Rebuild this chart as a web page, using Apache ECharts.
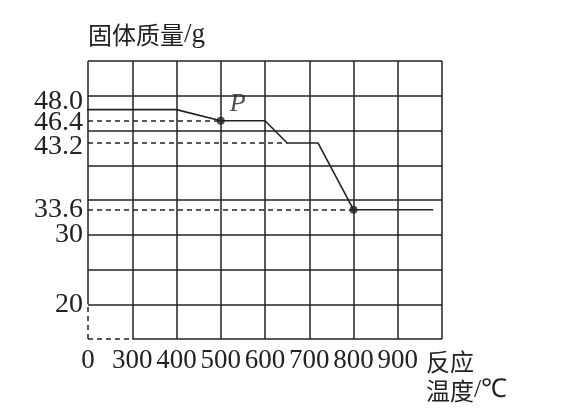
<!DOCTYPE html>
<html>
<head>
<meta charset="utf-8">
<script src="https://cdn.jsdelivr.net/npm/echarts@6.0.0/dist/echarts.min.js"></script>
<style>
    html, body { margin: 0; padding: 0; background: #fff; }
    #chart { width: 586px; height: 414px; }
</style>
</head>
<body>
<div id="chart"></div>
<script>
// Reaction temperature (°C) and solid mass (g)
const temperature = [0, 400, 500, 600, 650, 720, 800, 980];
const mass = [48.0, 48.0, 46.4, 46.4, 43.2, 43.2, 33.6, 33.6];

// Marked points on the curve
const pointX = [500, 800];
const pointY = [46.4, 33.6];
const pointName = ["P", ""];

// Dashed guides from the y axis to the curve
const guideX = [500, 650, 800];
const guideY = [46.4, 43.2, 33.6];

// Tick labels
const yTickValues = [20, 30, 33.6, 43.2, 46.4, 48.0];
const yTickLabels = ["20", "30", "33.6", "43.2", "46.4", "48.0"];
const xTickLabels = ["0", "300", "400", "500", "600", "700", "800", "900", ""];

// Axis extents (the first x step and the lowest y step are a broken, dashed part)
const X_MIN = 200, X_MAX = 1000, X_STEP = 100, X_BREAK = 300;
const Y_MIN = 15, Y_MAX = 55, Y_STEP = 5, Y_BREAK = 20;

const INK = "#222";
const SERIF = "Liberation Serif";
const CJK = "Noto Sans CJK SC";

const solid = { color: INK, width: 1.5, type: "solid" };
const dashed = { color: INK, width: 1.5, type: [5, 4] };

// The crowded labels at the top are split over overlaid y axes, otherwise
// ECharts hides a label that touches the first/last one of an axis
const labelGroups = [[0, 1, 2, 4], [3], [5]];

// Vertical nudge (px, positive = down) per label, as in the printed figure
const labelNudge = [0, 0, 0, 4, 2, -8];

function yLabel(value)
{
    const i = yTickValues.findIndex((v) => Math.abs(v - value) < 1e-6);
    return "{t" + i + "|" + yTickLabels[i] + "}";
}

const labelRich = {};
labelNudge.forEach((d, i) => {
    labelRich["t" + i] = {
        fontFamily: SERIF,
        fontSize: 28,
        color: INK,
        padding: d >= 0 ? [2 * d, 0, 0, 0] : [0, 0, -2 * d, 0]
    };
});

const yAxes = labelGroups.map((group, k) => ({
    type: "value",
    min: Y_MIN,
    max: Y_MAX,
    interval: Y_STEP,
    position: "left",
    axisLine: { show: false },
    axisTick: { show: false },
    splitLine: { show: k === 0, showMinLine: false, lineStyle: solid },
    axisLabel: {
        margin: 5,
        showMinLabel: true,
        showMaxLabel: true,
        customValues: group.map((i) => yTickValues[i]),
        formatter: yLabel,
        rich: labelRich
    }
}));

// Axis title on the first y axis
Object.assign(yAxes[0], {
    name: "{c|固体质量}{s|/g}",
    nameLocation: "end",
    nameGap: 26,
    nameTextStyle: {
        align: "left",
        verticalAlign: "middle",
        rich: {
            c: { fontFamily: CJK, fontSize: 24, color: INK },
            s: { fontFamily: SERIF, fontSize: 27, color: INK }
        }
    }
});

const chart = echarts.init(document.getElementById("chart"));

chart.setOption({
    animation: false,
    backgroundColor: "#fff",
    grid: { left: 88, right: 144, top: 61, bottom: 75 },
    xAxis: {
        type: "value",
        min: X_MIN,
        max: X_MAX,
        interval: X_STEP,
        name: "{c|反应}\n{c|温度}{s|/℃}",
        nameLocation: "end",
        nameGap: -16,
        nameTextStyle: {
            align: "left",
            verticalAlign: "top",
            padding: [8, 0, 0, 0],
            rich: {
                c: { fontFamily: CJK, fontSize: 24, color: INK, lineHeight: 29 },
                s: { fontFamily: SERIF, fontSize: 26, color: INK, lineHeight: 29 }
            }
        },
        axisLine: { show: false },
        axisTick: { show: false },
        splitLine: { show: true, showMinLine: false, lineStyle: solid },
        axisLabel: {
            margin: 8,
            fontFamily: SERIF,
            fontSize: 27,
            color: INK,
            showMinLabel: true,
            formatter: (v) => xTickLabels[Math.round((v - X_MIN) / X_STEP)]
        }
    },
    yAxis: yAxes,
    series: [
        {
            // The curve
            type: "line",
            data: temperature.map((t, i) => [t, mass[i]]),
            symbol: "none",
            clip: true,
            lineStyle: { color: INK, width: 1.6 },
            markLine: {
                silent: true,
                symbol: "none",
                label: { show: false },
                lineStyle: dashed,
                data: guideY.map((y, i) => [
                    { coord: [X_MIN, y] },
                    { coord: [guideX[i], y] }
                ])
            }
        },
        {
            // Axis frame: solid part and dashed broken part
            type: "line",
            data: [],
            markLine: {
                silent: true,
                symbol: "none",
                label: { show: false },
                data: [
                    [{ coord: [X_MIN, Y_BREAK], lineStyle: solid }, { coord: [X_MIN, Y_MAX] }],
                    [{ coord: [X_MIN, Y_MIN], lineStyle: dashed }, { coord: [X_MIN, Y_BREAK] }],
                    [{ coord: [X_BREAK, Y_MIN], lineStyle: solid }, { coord: [X_MAX, Y_MIN] }],
                    [{ coord: [X_MIN, Y_MIN], lineStyle: dashed }, { coord: [X_BREAK, Y_MIN] }]
                ]
            }
        },
        {
            // Marked points
            type: "scatter",
            symbolSize: 8,
            itemStyle: { color: INK },
            data: pointX.map((x, i) => ({
                value: [x, pointY[i]],
                label: {
                    show: pointName[i] !== "",
                    formatter: pointName[i],
                    position: "top",
                    distance: 0,
                    offset: [17, 0],
                    fontFamily: SERIF,
                    fontStyle: "italic",
                    fontSize: 26,
                    color: INK
                }
            }))
        }
    ]
});
</script>
</body>
</html>
